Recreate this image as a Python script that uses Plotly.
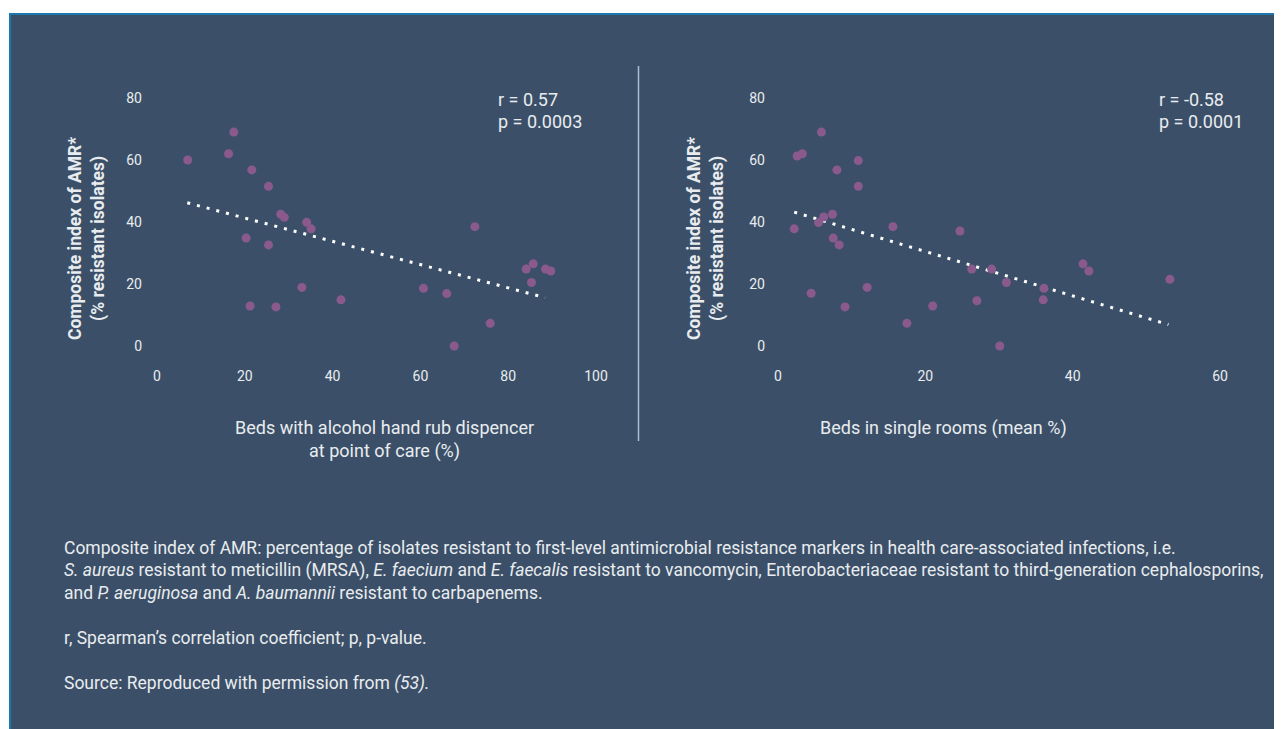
import plotly.graph_objects as go

W, H = 1282, 729
OFF = 8  # page body margin
BG = "#3b5068"
PURPLE = "#8a5a8d"
TXT = "#e9ecef"
FONT = "Roboto"

# Left panel: beds with alcohol hand rub dispenser at point of care (%)
hand_rub_x = [7, 17.5, 16.3, 21.6, 25.4, 28.2, 29.0, 34.1, 35.1, 20.3, 25.4, 33.0, 21.2, 27.1, 41.9,
              72.4, 60.7, 66.0, 67.7, 75.9, 84.1, 85.7, 85.3, 88.5, 89.7]
hand_rub_y = [60, 69, 62, 56.8, 51.5, 42.5, 41.5, 39.9, 37.8, 34.8, 32.6, 18.9, 12.9, 12.6, 14.9,
              38.5, 18.6, 16.9, 0, 7.3, 24.8, 26.5, 20.5, 24.8, 24.2]
hand_rub_trend_x = [6.9, 88.4]
hand_rub_trend_y = [46.2, 15.6]

# Right panel: beds in single rooms (mean %)
single_x = [5.9, 2.6, 3.3, 8.0, 10.9, 10.9, 7.4, 6.2, 5.5, 2.2, 7.5, 8.3, 15.6, 4.5, 12.1, 9.1, 21.0, 17.5,
            24.7, 26.3, 29.0, 31.0, 27.0, 30.1, 36.1, 36.0, 41.4, 42.2, 53.2]
single_y = [69, 61.3, 62, 56.8, 59.8, 51.5, 42.5, 41.6, 39.8, 37.8, 34.8, 32.6, 38.5, 17.0, 18.9, 12.6, 12.9, 7.3,
            37.1, 24.8, 24.8, 20.5, 14.6, 0, 18.6, 14.9, 26.5, 24.2, 21.5]
single_trend_x = [2.2, 53.0]
single_trend_y = [43.2, 6.9]

y_ticks = [0, 20, 40, 60, 80]
left_x_ticks = [0, 20, 40, 60, 80, 100]
right_x_ticks = [0, 20, 40, 60]

stats_left = ["r = 0.57", "p = 0.0003"]
stats_right = ["r = -0.58", "p = 0.0001"]
y_title = "<b>Composite index of AMR*<br>(% resistant isolates)</b>"
left_x_title = "Beds with alcohol hand rub dispencer<br>at point of care (%)"
right_x_title = "Beds in single rooms (mean %)"
footnotes = [
    ("Composite index of AMR: percentage of isolates resistant to first-level antimicrobial resistance markers in health care-associated infections, i.e.", 548),
    ("<i>S. aureus</i> resistant to meticillin (MRSA), <i>E. faecium</i> and <i>E. faecalis</i> resistant to vancomycin, Enterobacteriaceae resistant to third-generation cephalosporins,", 570),
    ("and <i>P. aeruginosa</i> and <i>A. baumannii</i> resistant to carbapenems.", 593),
    ("r, Spearman\u2019s correlation coefficient; p, p-value.", 638),
    ("Source: Reproduced with permission from <i>(53).</i>", 683),
]


def px(x):
    return (x - OFF) / W


def py(y):
    return 1 - (y - OFF) / H


fig = go.Figure()

fig.add_trace(go.Scatter(x=hand_rub_trend_x, y=hand_rub_trend_y, mode="lines",
                         line=dict(color="white", width=3, dash="3px,7px"),
                         xaxis="x", yaxis="y", hoverinfo="skip"))
fig.add_trace(go.Scatter(x=hand_rub_x, y=hand_rub_y, mode="markers",
                         marker=dict(color=PURPLE, size=9), xaxis="x", yaxis="y"))
fig.add_trace(go.Scatter(x=single_trend_x, y=single_trend_y, mode="lines",
                         line=dict(color="white", width=3, dash="3px,7px"),
                         xaxis="x2", yaxis="y2", hoverinfo="skip"))
fig.add_trace(go.Scatter(x=single_x, y=single_y, mode="markers",
                         marker=dict(color=PURPLE, size=9), xaxis="x2", yaxis="y2"))

# screen-pixel geometry: left x 0->157, 100->596; right x 0->778, 60->1220; y 0->346, 80->98
lx0, lx1 = 143, 620
rx0, rx1 = 766, 1250
ytop, ybot = 90, 366


def xr(p0, p1, a, b, va, vb):
    s = (b - a) / (vb - va)
    return [va + (p0 - a) / s, va + (p1 - a) / s]


yr = [(346 - ybot) / 3.1, (346 - ytop) / 3.1]

axis_common = dict(showgrid=False, zeroline=False, showline=False, ticks="",
                   tickfont=dict(color=TXT, size=14, family=FONT))

fig.update_layout(
    width=W, height=H,
    margin=dict(l=0, r=0, t=0, b=0),
    paper_bgcolor="white",
    plot_bgcolor="rgba(0,0,0,0)",
    showlegend=False,
    font=dict(family=FONT, color=TXT),
    xaxis=dict(domain=[px(lx0), px(lx1)], range=xr(lx0, lx1, 157, 596, 0, 100),
               tickvals=left_x_ticks, anchor="y", **axis_common),
    yaxis=dict(domain=[py(ybot), py(ytop)], range=yr, tickvals=y_ticks, anchor="x", **axis_common),
    xaxis2=dict(domain=[px(rx0), px(rx1)], range=xr(rx0, rx1, 778, 1220, 0, 60),
                tickvals=right_x_ticks, anchor="y2", **axis_common),
    yaxis2=dict(domain=[py(ybot), py(ytop)], range=yr, tickvals=y_ticks, anchor="x2", **axis_common),
)

shapes = [
    dict(type="rect", xref="paper", yref="paper", x0=px(10), x1=px(W + 20), y0=py(H + 20), y1=py(14),
         fillcolor=BG, line=dict(color="#1a78aa", width=2), layer="below"),
    dict(type="line", xref="paper", yref="paper", x0=px(638.5), x1=px(638.5), y0=py(441), y1=py(66),
         line=dict(color="#a9bfcf", width=1.5)),
]
fig.update_layout(shapes=shapes)

ann = []
for i, t in enumerate(stats_left):
    ann.append(dict(text=t, x=px(496), y=py(99 + 22 * i), xref="paper", yref="paper",
                    xanchor="left", yanchor="middle", showarrow=False,
                    font=dict(size=18, color=TXT, family=FONT)))
for i, t in enumerate(stats_right):
    ann.append(dict(text=t, x=px(1157), y=py(99 + 22 * i), xref="paper", yref="paper",
                    xanchor="left", yanchor="middle", showarrow=False,
                    font=dict(size=18, color=TXT, family=FONT)))
for cx in (87, 706):
    ann.append(dict(text=y_title, x=px(cx), y=py(239), xref="paper", yref="paper",
                    xanchor="center", yanchor="middle", showarrow=False, textangle=-90,
                    font=dict(size=17.5, color=TXT, family=FONT)))
ann.append(dict(text=left_x_title, x=px(384), y=py(439), xref="paper", yref="paper",
                xanchor="center", yanchor="middle", showarrow=False,
                font=dict(size=18, color=TXT, family=FONT)))
ann.append(dict(text=right_x_title, x=px(943), y=py(428), xref="paper", yref="paper",
                xanchor="center", yanchor="middle", showarrow=False,
                font=dict(size=18, color=TXT, family=FONT)))
for t, yy in footnotes:
    ann.append(dict(text=t, x=px(62), y=py(yy), xref="paper", yref="paper",
                    xanchor="left", yanchor="middle", showarrow=False,
                    font=dict(size=17.5, color=TXT, family=FONT)))
fig.update_layout(annotations=ann)

fig.write_html("out.html")
